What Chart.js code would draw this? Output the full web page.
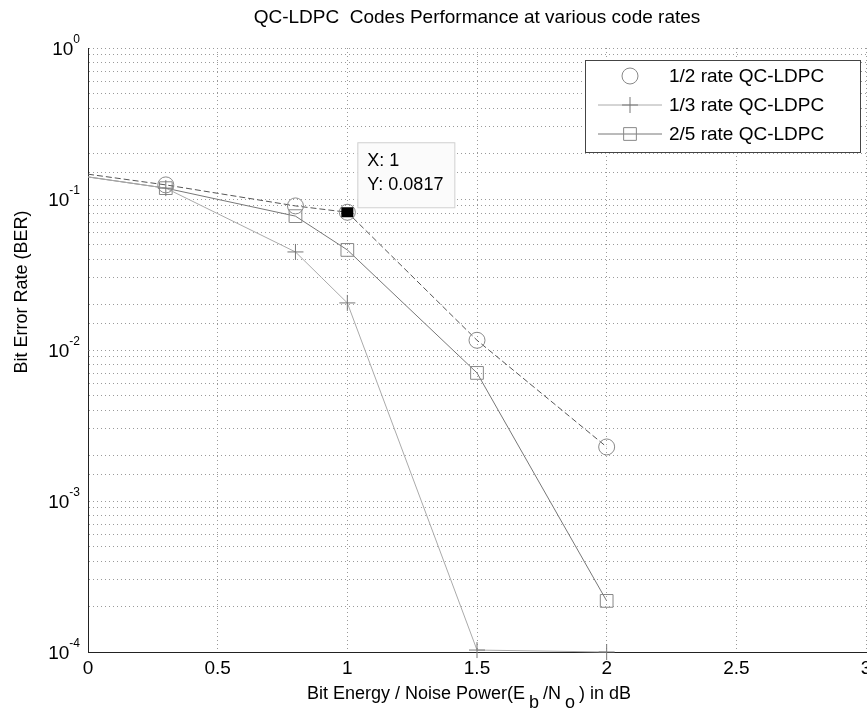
<!DOCTYPE html>
<html>
<head>
<meta charset="utf-8">
<style>
  html, body { margin: 0; padding: 0; background: #fff; }
  #wrap { width: 867px; height: 715px; }
</style>
<script src="https://cdn.jsdelivr.net/npm/chart.js@4/dist/chart.umd.min.js"></script>
</head>
<body>
<div id="wrap"><canvas id="ber"></canvas></div>
<script>
// Eb/No points (dB) and BER per code rate
var ebno = [0, 0.3, 0.8, 1, 1.5, 2];
var berHalf = [0.146, 0.124, 0.09, 0.0817, 0.0116, 0.00228];
var berThird = [0.14, 0.118, 0.0446, 0.0205, 0.000103, 0.0001];
var berTwoFifth = [0.14, 0.118, 0.077, 0.046, 0.00705, 0.000218];
var seriesNames = ["1/2 rate QC-LDPC", "1/3 rate QC-LDPC", "2/5 rate QC-LDPC"];
var xTicks = [0, 0.5, 1, 1.5, 2, 2.5, 3];
var yDecades = [1, 0.1, 0.01, 0.001, 0.0001];
var tipIndex = 3; // data cursor on the 1/2 rate curve

var font = "'Liberation Sans', Arial, sans-serif";

var toPoints = function(ys) {
  return ebno.map((x, i) => ({ x: x, y: ys[i] }));
};

var noFirst = function(r) {
  return ctx => (ctx.dataIndex === 0 ? 0 : r);
};

// legend box drawn inside the axes, MATLAB style
var boxLegend = {
  id: "boxLegend",
  afterDatasetsDraw(chart) {
    var c = chart.ctx, a = chart.chartArea;
    var w = 275, h = 92;
    var left = a.right - 6 - w, top = a.top + 12;
    c.save();
    c.fillStyle = "#fff";
    c.fillRect(left, top, w, h);
    c.strokeStyle = "#444";
    c.lineWidth = 1;
    c.strokeRect(left + 0.5, top + 0.5, w, h);
    c.textBaseline = "middle";
    chart.data.datasets.forEach((ds, i) => {
      var y = top + 16 + i * 29;
      var mx = left + 45;
      c.strokeStyle = ds.borderColor;
      c.lineWidth = 1;
      c.setLineDash([]);
      if (ds.legendLine) {
        c.beginPath();
        c.moveTo(left + 13, y);
        c.lineTo(left + 77, y);
        c.stroke();
      }
      c.strokeStyle = ds.pointBorderColor;
      c.fillStyle = "rgba(255,255,255,0)";
      Chart.helpers.drawPoint(c, {
        pointStyle: ds.pointStyle,
        radius: ds.legendRadius,
        borderWidth: 1
      }, mx, y);
      c.fillStyle = "#000";
      c.font = "19px " + font;
      c.fillText(ds.label, left + 84, y + 1);
    });
    c.restore();
  }
};

// data tip on the 1/2 rate curve
var dataTip = {
  id: "dataTip",
  afterDatasetsDraw(chart) {
    var c = chart.ctx;
    var px = chart.scales.x.getPixelForValue(ebno[tipIndex]);
    var py = chart.scales.y.getPixelForValue(berHalf[tipIndex]);
    c.save();
    c.fillStyle = "#000";
    c.fillRect(px - 6, py - 5, 12, 10);
    var bx = px + 10, by = py - 70, bw = 97, bh = 65;
    c.fillStyle = "#fbfbfb";
    c.fillRect(bx, by, bw, bh);
    c.strokeStyle = "#d0d0d0";
    c.strokeRect(bx + 0.5, by + 0.5, bw, bh);
    c.fillStyle = "#000";
    c.font = "18px " + font;
    c.textBaseline = "middle";
    c.fillText("X: " + ebno[tipIndex], bx + 10, by + 19);
    c.fillText("Y: " + berHalf[tipIndex], bx + 10, by + 43);
    c.restore();
  }
};

// tick labels, axis titles, power-of-ten labels with superscripts
var axisText = {
  id: "axisText",
  afterDraw(chart) {
    var c = chart.ctx, a = chart.chartArea, ys = chart.scales.y, xs = chart.scales.x;
    c.save();
    c.fillStyle = "#000";
    c.textBaseline = "alphabetic";
    yDecades.forEach(v => {
      var py = ys.getPixelForValue(v);
      var exp = String(Math.round(Math.log10(v)));
      c.font = "12px " + font;
      var ew = c.measureText(exp).width;
      c.font = "19px " + font;
      var bw = c.measureText("10").width;
      var right = a.left - 8;
      c.fillText("10", right - ew - bw, py + 7);
      c.font = "12px " + font;
      c.fillText(exp, right - ew, py - 5);
    });
    // x tick labels (last one runs off the canvas edge like the original)
    c.font = "19px " + font;
    c.textAlign = "center";
    c.textBaseline = "top";
    xTicks.forEach(v => {
      c.fillText(String(v), xs.getPixelForValue(v), a.bottom + 7);
    });
    c.textAlign = "left";
    c.textBaseline = "alphabetic";
    // x title with subscripts
    var parts = [
      ["Bit Energy / Noise Power(E", 0],
      ["b", 9],
      ["/N", 0],
      ["o", 9],
      [") in dB", 0]
    ];
    c.font = "18px " + font;
    var gap = 8;
    var total = 0;
    parts.forEach(p => {
      total += c.measureText(p[0]).width + (p[1] ? gap : 0);
    });
    var x = (a.left + a.right) / 2 - total / 2 - 8;
    var base = a.bottom + 47;
    parts.forEach(p => {
      if (p[1]) x += gap / 2;
      c.fillText(p[0], x, base + p[1]);
      x += c.measureText(p[0]).width + (p[1] ? gap / 2 : 0);
    });
    // y title
    c.font = "18px " + font;
    c.translate(22, (a.top + a.bottom) / 2 - 58);
    c.rotate(-Math.PI / 2);
    c.textAlign = "center";
    c.textBaseline = "middle";
    c.fillText("Bit Error Rate (BER)", 0, 0);
    c.restore();
  }
};

var chart = new Chart(document.getElementById("ber"), {
  type: "scatter",
  data: {
    datasets: [
      {
        label: seriesNames[0],
        data: toPoints(berHalf),
        showLine: true,
        borderColor: "#555",
        borderWidth: 1,
        borderDash: [6, 3],
        pointStyle: "circle",
        pointRadius: noFirst(8),
        legendRadius: 8,
        legendLine: false,
        pointBorderColor: "#888",
        pointBackgroundColor: "rgba(0,0,0,0)",
        pointBorderWidth: 1,
        clip: false
      },
      {
        label: seriesNames[1],
        data: toPoints(berThird),
        showLine: true,
        borderColor: "#aaa",
        borderWidth: 1,
        pointStyle: "cross",
        pointRadius: noFirst(8),
        legendRadius: 8,
        legendLine: true,
        pointBorderColor: "#777",
        pointBackgroundColor: "rgba(0,0,0,0)",
        pointBorderWidth: 1,
        clip: false
      },
      {
        label: seriesNames[2],
        data: toPoints(berTwoFifth),
        showLine: true,
        borderColor: "#777",
        borderWidth: 1,
        pointStyle: "rect",
        pointRadius: noFirst(9),
        legendRadius: 9,
        legendLine: true,
        pointBorderColor: "#888",
        pointBackgroundColor: "rgba(0,0,0,0)",
        pointBorderWidth: 1,
        clip: false
      }
    ]
  },
  options: {
    responsive: true,
    maintainAspectRatio: false,
    animation: false,
    layout: { autoPadding: false, padding: { right: 1, left: 0, bottom: 0 } },
    plugins: {
      legend: { display: false },
      tooltip: { enabled: false },
      title: {
        display: true,
        fullSize: false,
        text: "QC-LDPC  Codes Performance at various code rates",
        color: "#000",
        font: { family: font, size: 19, weight: "normal" },
        padding: { top: 6, bottom: 19.2 }
      }
    },
    scales: {
      x: {
        type: "linear",
        min: 0,
        max: 3,
        afterBuildTicks: s => { s.ticks = xTicks.map(v => ({ value: v })); },
        afterFit: s => { s.height = 63; },
        ticks: { display: false },
        grid: { color: "#9a9a9a", drawTicks: false },
        border: { display: true, color: "#222", dash: [1, 3] }
      },
      y: {
        type: "logarithmic",
        min: 0.0001,
        max: 1,
        afterFit: s => { s.width = 88; },
        ticks: { display: false },
        grid: { color: "#9a9a9a", drawTicks: false },
        border: { display: true, color: "#222", dash: [1, 3] }
      }
    }
  },
  plugins: [boxLegend, dataTip, axisText]
});
</script>
</body>
</html>
